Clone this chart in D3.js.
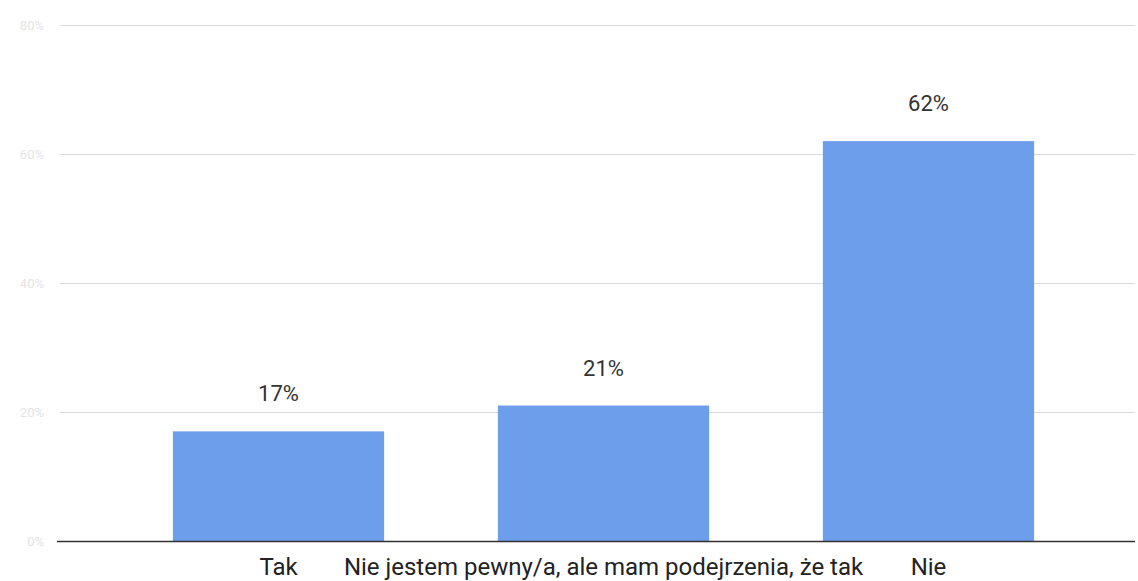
<!DOCTYPE html>
<html>
<head>
<meta charset="utf-8">
<script src="https://cdn.jsdelivr.net/npm/d3@7"></script>
<style>
  html, body { margin: 0; padding: 0; background: #fff; }
  svg { display: block; font-family: Roboto, "Noto Sans", sans-serif; }
</style>
</head>
<body>
<div id="chart"></div>
<script>
var categories = [ "Tak", "Nie jestem pewny/a, ale mam podejrzenia, że tak", "Nie" ];
var values = [ 0.17, 0.21, 0.62 ];
var yTicks = [ 0, 0.2, 0.4, 0.6, 0.8 ];

var width = 1138;
var height = 581;
var plot = { left: 60, right: 1135, top: 25, bottom: 541 };

var svg = d3.select( "#chart" ).append( "svg" )
  .attr( "width", width )
  .attr( "height", height );

var y = d3.scaleLinear().domain( [ 0, 0.8 ] ).range( [ plot.bottom, plot.top ] );
var x = d3.scaleBand()
  .domain( categories )
  .range( [ 116, 1091 ] )
  .paddingInner( 0.35 )
  .paddingOuter( 0.175 );

var fmt = d3.format( ".0%" );

// gridlines + faint tick labels
var grid = svg.append( "g" ).attr( "class", "grid" );
grid.selectAll( "line" )
  .data( yTicks.slice( 1 ) )
  .enter().append( "line" )
  .attr( "x1", plot.left )
  .attr( "x2", plot.right )
  .attr( "y1", function( d ) { return Math.round( y( d ) ) + 0.5; } )
  .attr( "y2", function( d ) { return Math.round( y( d ) ) + 0.5; } )
  .attr( "stroke", "#d9d9d9" )
  .attr( "stroke-width", 1 );

grid.selectAll( "text" )
  .data( yTicks )
  .enter().append( "text" )
  .attr( "x", 44 )
  .attr( "y", function( d ) { return y( d ) + 5; } )
  .attr( "text-anchor", "end" )
  .attr( "font-size", 13 )
  .attr( "fill", "#e4e4e4" )
  .text( function( d ) { return fmt( d ); } );

// bars
svg.append( "g" ).attr( "class", "bars" )
  .selectAll( "rect" )
  .data( values )
  .enter().append( "rect" )
  .attr( "x", function( d, i ) { return x( categories[ i ] ); } )
  .attr( "width", x.bandwidth() )
  .attr( "y", function( d ) { return y( d ); } )
  .attr( "height", function( d ) { return plot.bottom - y( d ); } )
  .attr( "fill", "#6d9eeb" );

// value labels
svg.append( "g" ).attr( "class", "labels" )
  .selectAll( "text" )
  .data( values )
  .enter().append( "text" )
  .attr( "x", function( d, i ) { return x( categories[ i ] ) + x.bandwidth() / 2; } )
  .attr( "y", function( d ) { return y( d ) - 30; } )
  .attr( "text-anchor", "middle" )
  .attr( "font-size", 22 )
  .attr( "fill", "#333" )
  .text( function( d ) { return fmt( d ); } );

// x axis
var xAxis = svg.append( "g" )
  .attr( "class", "x-axis" )
  .attr( "transform", "translate(0," + plot.bottom + ")" )
  .call( d3.axisBottom( x ).tickSize( 0 ).tickPadding( 0 ) );
xAxis.select( ".domain" ).remove();
xAxis.append( "line" )
  .attr( "x1", 57 )
  .attr( "x2", plot.right )
  .attr( "y1", 0.5 )
  .attr( "y2", 0.5 )
  .attr( "stroke", "#333" )
  .attr( "stroke-width", 1.5 );
xAxis.selectAll( ".tick text" )
  .attr( "dy", null )
  .attr( "y", 34 )
  .attr( "font-family", "Roboto, 'Noto Sans', sans-serif" )
  .attr( "font-size", 24 )
  .attr( "fill", "#222" );
</script>
</body>
</html>
